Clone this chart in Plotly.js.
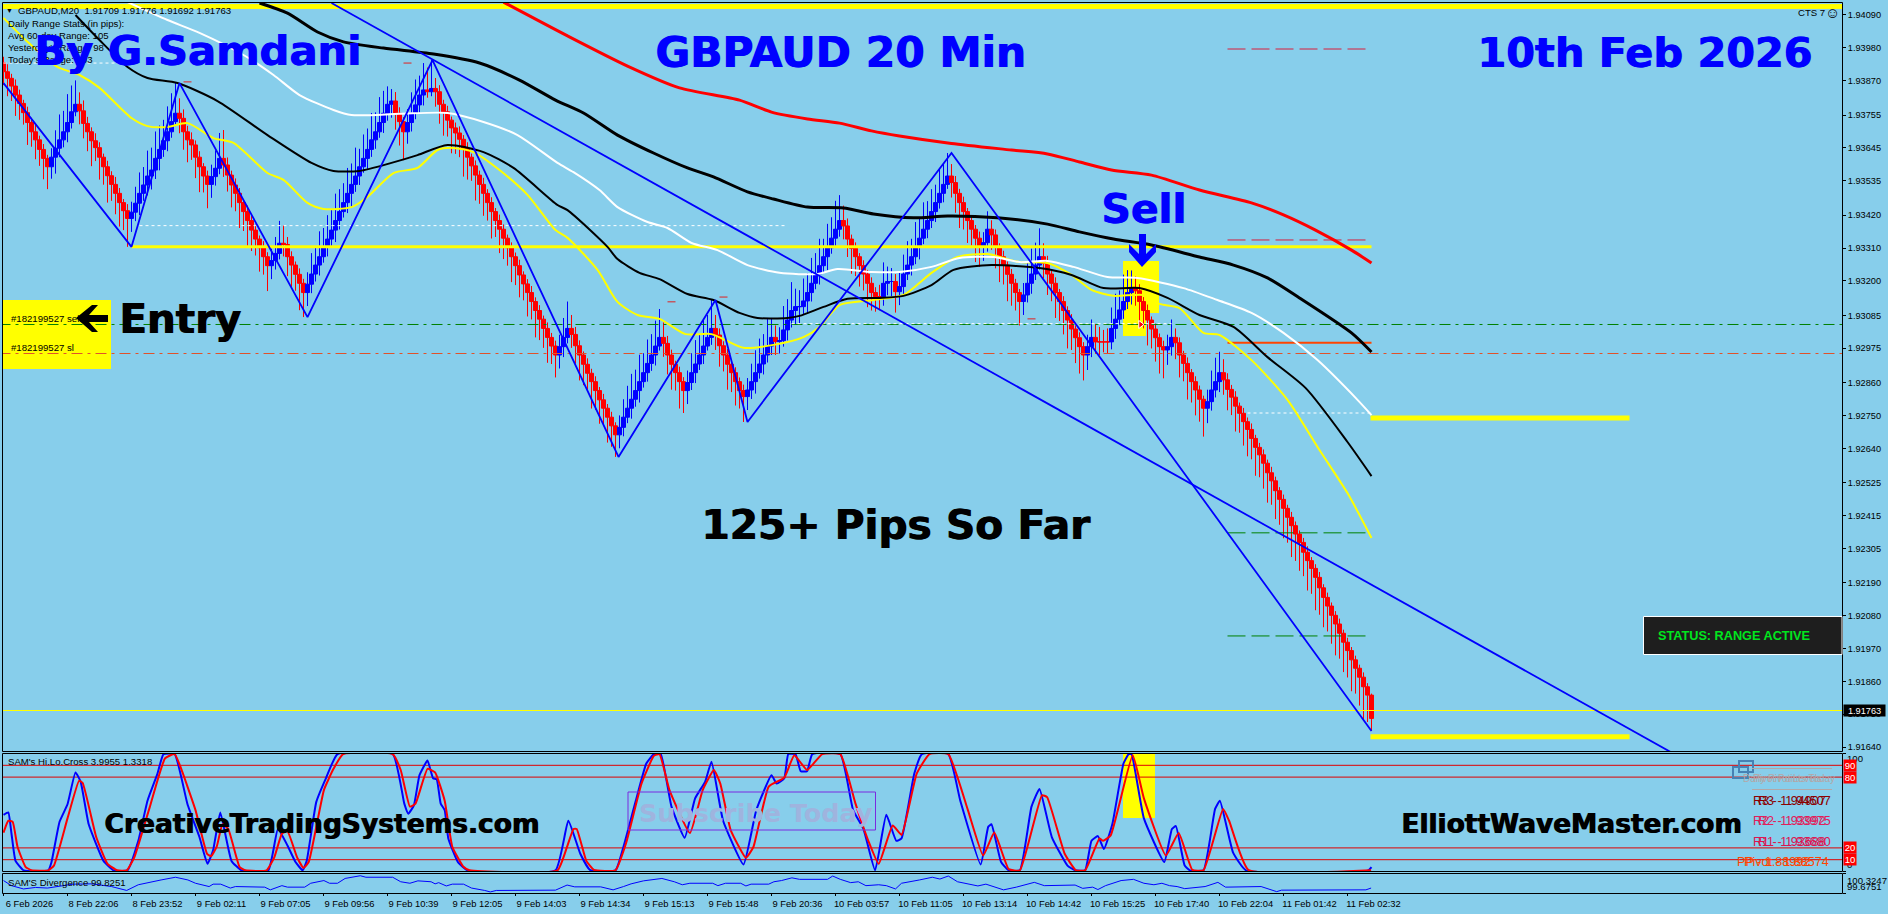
<!DOCTYPE html>
<html><head><meta charset="utf-8">
<script src="https://cdn.plot.ly/plotly-3.0.1.min.js"></script>
<style>html,body{margin:0;padding:0;background:#87ceeb;overflow:hidden}#c{width:1888px;height:914px}</style>
</head><body><div id="c"></div>
<script>
// ---- prices are stored as points above 1.90000 (1 = 0.00001)
const closes=[
3900,3878,3852,3822,3794,3763,3730,3699,3672,3640,
3610,3582,3614,3644,3672,3699,3730,3766,3791,3769,
3727,3699,3669,3646,3614,3582,3552,3523,3493,3462,
3435,3409,3430,3460,3493,3521,3551,3571,3610,3640,
3669,3699,3733,3761,3744,3699,3672,3655,3614,3582,
3551,3523,3549,3577,3610,3588,3554,3521,3493,3462,
3432,3402,3370,3340,3311,3281,3251,3268,3292,3326,
3322,3281,3253,3222,3192,3161,3189,3223,3253,3281,
3312,3340,3370,3402,3432,3462,3493,3523,3551,3582,
3610,3640,3672,3699,3730,3761,3791,3802,3761,3733,
3699,3730,3761,3789,3822,3839,3833,3844,3833,3791,
3766,3738,3712,3695,3674,3644,3614,3585,3554,3523,
3493,3462,3432,3402,3373,3343,3311,3281,3251,3220,
3190,3161,3131,3101,3072,3041,3011,2982,2952,2980,
3011,3041,3021,2983,2952,2921,2891,2863,2833,2802,
2774,2744,2715,2685,2710,2744,2774,2804,2833,2863,
2893,2924,2952,2982,3011,2991,2952,2921,2893,2863,
2833,2860,2893,2922,2952,2982,3011,3041,3019,2983,
2952,2921,2893,2863,2833,2813,2835,2863,2893,2922,
2952,2982,3011,2997,3000,3036,3069,3101,3114,3114,
3133,3161,3192,3223,3251,3281,3311,3343,3373,3402,
3384,3340,3309,3281,3251,3223,3192,3161,3147,3147,
3192,3198,3198,3164,3181,3223,3253,3281,3312,3343,
3373,3402,3432,3462,3493,3523,3551,3529,3493,3462,
3432,3402,3373,3343,3312,3328,3373,3354,3312,3281,
3253,3222,3192,3161,3131,3153,3192,3223,3253,3281,
3259,3223,3192,3161,3131,3101,3069,3039,3010,2980,
2952,2980,3011,2996,2996,2996,2996,3041,3072,3103,
3131,3161,3175,3167,3131,3101,3069,3039,3010,2980,
2969,2980,3011,2993,2952,2924,2893,2863,2835,2804,
2774,2796,2835,2863,2893,2869,2837,2811,2781,2757,
2729,2703,2673,2643,2618,2590,2558,2531,2498,2469,
2439,2409,2381,2353,2325,2292,2264,2238,2208,2173,
2141,2112,2081,2052,2021,1991,1963,1932,1904,1874,
1842,1814,1736];
const wickUp=[
20,25,15,22,18,12,20,16,24,14,
18,12,30,60,85,70,95,88,80,40,
35,22,15,25,18,12,20,15,25,18,
12,22,35,55,70,60,85,75,90,80,
70,85,95,101,50,30,20,25,15,20,
12,18,40,60,85,95,25,15,22,18,
12,20,15,18,12,22,15,40,55,75,
60,25,18,12,20,15,40,70,60,85,
65,80,70,90,75,65,85,70,95,60,
80,70,90,65,85,75,60,40,30,20,
15,45,70,85,65,90,75,95,35,22,
15,20,12,18,22,14,20,12,18,15,
22,14,18,12,20,16,12,18,14,20,
12,16,22,14,18,12,20,15,18,40,
65,90,45,25,18,12,20,15,18,12,
20,14,18,12,40,60,75,85,70,90,
65,80,70,85,95,50,25,18,12,20,
15,40,65,80,70,90,75,95,45,22,
15,20,12,18,14,20,40,60,75,85,
70,90,65,40,45,80,70,95,60,55,
75,65,85,70,90,60,80,70,95,85,
50,25,15,20,12,18,14,20,18,40,
70,50,45,25,50,65,80,60,85,70,
90,65,75,60,85,70,77,40,22,15,
20,12,18,14,22,35,60,30,18,14,
20,12,18,15,12,40,70,85,75,95,
45,25,15,20,12,18,14,20,12,18,
15,40,60,45,50,40,45,70,85,65,
90,75,60,40,22,15,20,12,18,14,
20,40,60,30,18,14,20,12,18,15,
12,40,65,80,70,45,22,15,20,12,
18,14,20,12,15,18,12,20,14,12,
16,12,18,14,12,15,20,12,14,18,
12,16,12,14,18,12,15,12,14,12,
16,12,5];
const wickDown=[
45,60,50,70,55,40,75,50,65,55,
70,75,40,55,30,25,35,20,15,45,
50,65,85,45,75,60,90,55,70,80,
65,95,45,30,40,25,35,45,30,40,
25,35,20,15,50,60,75,50,70,85,
55,80,45,30,20,40,55,75,60,85,
65,90,70,55,80,60,85,45,30,20,
40,65,80,55,90,82,45,30,25,35,
20,30,25,40,30,20,35,45,25,30,
20,35,25,30,20,35,25,45,55,80,
95,40,30,20,25,35,20,15,50,65,
80,55,85,70,60,95,75,50,85,65,
75,60,90,55,80,70,60,85,65,75,
55,80,60,90,70,65,85,60,75,45,
35,20,45,60,85,70,55,90,65,80,
60,85,70,74,45,30,20,35,25,40,
20,30,25,35,15,45,65,85,60,90,
75,45,25,35,20,30,15,25,50,70,
55,85,65,80,60,85,45,30,40,20,
35,25,30,45,40,20,35,25,45,60,
25,40,30,20,35,25,45,20,30,25,
45,60,85,65,70,55,80,60,50,45,
30,40,50,70,45,30,20,35,25,40,
20,30,25,35,20,30,15,50,65,85,
60,75,55,80,65,45,30,50,70,85,
65,90,75,60,80,45,25,35,20,15,
50,70,60,85,65,80,95,70,85,90,
85,50,35,40,45,35,40,25,35,20,
30,25,40,50,70,60,85,65,80,90,
95,50,30,55,75,60,90,70,85,75,
95,50,30,25,35,50,70,60,85,65,
80,90,70,95,75,85,100,80,95,85,
100,85,105,90,95,80,100,85,110,90,
100,85,95,105,85,100,90,105,85,95,
110,90,42];
const firstOpen=3930;

const maRedBars=[125,141,156,169,184,192,201,209,217,224,237,252,261,269,277,287,299,312,320,328,337,342];
const maRedVals=[4133,4020,3919,3846,3805,3765,3742,3728,3702,3685,3660,3638,3625,3598,3571,3554,3504,3461,3421,3370,3303,3260];
const maThickBars=[64,71,78.5,85,95,107.5,119,129,138,145,153.5,162.5,171,177.5,186,192.5,201,210,217.5,227.5,236,248.5,261,269,277.5,287,299,307.5,316,324,337,342];
const maThickVals=[4130,4096,4033,4000,3979,3959,3929,3872,3805,3762,3688,3628,3578,3548,3498,3474,3447,3444,3424,3411,3417,3411,3390,3364,3340,3320,3280,3253,3210,3143,3026,2962];
const maThinBars=[18,24,31,36,43.5,53.5,66,77,82.5,89,97,103.5,111,120,127.5,138.5,141,151,153.5,159,164,171,177.5,184,188.5,196,199,205,211,219,225,232,237.5,247,259,267,275,284,291,299,307.5,316,325.5,336,342];
const maThinVals=[4090,4006,3916,3879,3862,3802,3688,3595,3568,3568,3595,3621,3655,3631,3578,3454,3437,3314,3273,3227,3206,3156,3136,3093,3076,3076,3083,3113,3140,3143,3150,3186,3237,3253,3243,3220,3176,3176,3143,3086,3046,2945,2842,2661,2547];
const maWhiteBars=[31,41,49,60,67.5,74,82.5,87,99,111,120,128.5,138.5,142.5,149,153.5,161,166,172,178.5,186,194,203.5,208.5,217,224,232,239,247.5,254,261,267.5,276,283.5,295,303.5,312,320,328.5,338.5,342];
const maWhiteVals=[4133,4073,4030,3956,3889,3822,3772,3755,3759,3762,3732,3688,3595,3564,3504,3447,3397,3377,3327,3303,3253,3227,3223,3240,3230,3230,3247,3277,3280,3263,3267,3247,3213,3210,3176,3136,3093,3026,2935,2802,2751];
const maYellowBars=[0,6,13.5,19,24,32,36,41,46,52.5,57.5,66,70,76,80,87,91,97.5,103.5,108.5,112.5,117.5,124,131,138,141,148.5,153.5,158.5,164,170.5,177,185,192.5,200,204,209,217.5,225,232,238.5,246,254,261,267,272,277.5,285,289,294,300,304,312,321,329,336,342];
const maYellowVals=[4080,4000,3916,3889,3846,3745,3718,3715,3728,3678,3662,3561,3538,3461,3441,3447,3481,3561,3578,3638,3645,3631,3571,3488,3370,3344,3237,3130,3086,3073,3022,3022,2976,2986,3012,3046,3119,3136,3153,3227,3280,3290,3263,3260,3220,3170,3150,3153,3123,3109,3026,3019,2935,2802,2634,2490,2340];

const zigzagBars=[0,32,44,76,107.25,153.75,178,186,237,342];
const zigzagVals=[3862,3314,3862,3079,3939,2611,3136,2728,3628,1694];
const trendBars=[82,417];
const trendVals=[4130,1622];

const priceTicks=[1.94090,1.93980,1.93870,1.93755,1.93645,1.93535,1.93420,1.93310,1.93200,1.93085,1.92975,1.92860,1.92750,1.92640,1.92525,1.92415,1.92305,1.92190,1.92080,1.91970,1.91860,1.91750,1.91640];
const dateLabels=['6 Feb 2026','8 Feb 22:06','8 Feb 23:52','9 Feb 02:11','9 Feb 07:05','9 Feb 09:56','9 Feb 10:39','9 Feb 12:05','9 Feb 14:03','9 Feb 14:34','9 Feb 15:13','9 Feb 15:48','9 Feb 20:36','10 Feb 03:57','10 Feb 11:05','10 Feb 13:14','10 Feb 14:42','10 Feb 15:25','10 Feb 17:40','10 Feb 22:04','11 Feb 01:42','11 Feb 02:32'];
const dateBars=[0,16,32,48,64,80,96,112,128,144,160,176,192,208,224,240,256,272,288,304,320,336];

const stochBlueBars=[0,1.2,2,3,5,11.2,12,14,16,18,19.3,21.3,25,27.5,31,33.7,36,38.5,40,42.8,46,49,51,52.4,54.2,57,59.5,66.2,68.6,71,73,74.8,75.8,78.2,80.6,83.5,97.3,100.2,101.2,102.6,104,106,107.4,108.3,109.3,110.3,111.2,113.6,116,138,141.2,144.2,146.6,153,155,158,160.7,162.6,164.3,167,170.3,172.9,175.4,177,179.9,185,188.2,192,193.3,195.2,196.2,198,199.3,200.9,202.2,209.2,212.4,215,217.9,220.7,223.2,224.5,227.7,229.6,236.2,239.2,244.3,246.2,247,249.4,251.3,254.1,257,259,262.1,266,267.9,270.4,272,273.6,275.1,277.2,280,281.3,282,285.1,290.2,292.1,293.1,295.3,296.6,300,302.9,304.1,307.4,310.6,341.2,342];
const stochBlueVals=[48,50,32,9,1,1,8,42,57,84,76,40,9,1,1,26,60,83,99.5,99.5,57,29,6.5,18,50,9,1,1,36,22,8,1,9,59,79,99.5,99.5,57.5,49,56,81.6,94,79,78,57.5,52,28,8,1,1,43,15,1.4,1,21,59,91.5,99.5,99.5,55,28.6,62,76,93,43,6,52,81.6,74.5,79,99.5,99.5,85,85,99.5,99.5,52,36,1,48,26,28,83,99.5,99.5,60,6,38,40,8,1,1,55,70,29,5,1,1,26,30,19,40,91.5,99.5,99.5,45,8,36,38.5,5,1,1,53,60,16,1,1,3.7];
const stochRedBars=[0,1.2,2.3,3.5,5.5,7,11.2,12.6,16,18.9,19.8,23.2,26,28.4,30.8,32.7,36.6,40.4,42.8,44.2,48,50.9,51.9,53.3,54.75,56.2,59,60.5,65.75,67.7,69.6,71,73.4,75,76.3,80.1,82.5,84.9,97.3,99.3,101.6,103,106,107.9,110.3,112.2,115,116.5,138.5,140.9,142.5,143.3,145.7,147.6,153,155.6,159.5,162.6,164,166.5,171.6,174.8,177.6,179.2,181.8,185.6,187.5,191.3,195.2,197.7,200.9,204.7,209.2,213,216.2,218.8,222.3,224.5,228.3,231.5,236.2,241.1,244.9,247.7,251.3,254.1,259.6,260.9,265.3,268.1,270.4,274,274.9,276.8,282.3,285.1,290.6,293.8,297.2,300,304.9,306.4,311.2,341.9];
const stochRedVals=[33,43,42,21,4,1,1,5,45,77,75,29,6.5,1,1,12,55,96,99.5,89,52,15,13,21,40,36,4,1,1,12,32,34,12,3,8,69,87,99.5,99.5,86,55,57.5,87,84,60,21,4,1,1,21,36,36,9,1.4,1,23.5,74.5,98,99.5,69,32.6,69,86,74.5,35,11.6,21,72,79.6,98.6,86,99.5,99.5,57.5,26,6.5,39,31,83,99.5,99.5,52,13.6,33,2,1,64.6,63,15,1,1,28,26,30.6,98.6,62,13.6,32.6,1.4,1,53,43,1.4,1];
const stochLevels=[90,80,20,10];

const divBars=[0,2,5,8,11,13.6,17.4,22.2,27,30.8,33.7,39.4,43,46.1,48,51.4,52.4,54.3,56.7,58,65.3,66.7,68.1,69.6,71,75.3,76.8,80.1,81.5,83.5,85.4,89.2,90.6,97.3,99.3,101.6,103.6,106.9,107.9,108.8,110.7,112.2,115,117,120.3,121.7,123.2,138,140.9,142.8,149.3,152.4,155,156.9,160,164.6,167.7,169.7,171.6,177.3,178.6,180.5,184.3,185.6,186.9,191.3,192.6,194.5,197.1,199,206,207.3,209.2,211.8,213.7,215.6,218.8,220.7,223,224.5,229,232.2,234.1,236.2,238.5,243.6,245.6,250,253.2,257.7,260.2,267.9,269.8,272.3,273.6,275.5,279.4,282.5,285.1,287.6,289.6,291.5,293.4,295.3,300.4,303.6,305.5,314.4,318.3,319.5,340.6,341.9];
const divVals=[100.09,99.92,99.81,99.86,99.84,99.89,99.97,99.98,99.89,99.76,99.95,100.11,100.2,100.11,100.0,99.89,99.97,99.97,99.84,99.89,99.87,99.78,99.84,99.92,99.87,99.87,100.0,100.09,100.0,100.0,100.16,100.25,100.2,100.2,100.05,100.0,100.08,100.05,99.98,100.02,99.91,99.97,99.97,99.84,99.76,99.71,99.76,99.77,99.94,99.88,99.88,99.78,99.89,99.98,100.08,100.16,100.05,99.95,100.0,100.0,99.92,100.0,100.0,99.91,99.97,99.97,100.05,100.09,100.18,100.13,100.13,100.24,100.13,100.02,100.05,99.92,99.95,99.92,99.81,100.0,100.11,100.2,100.14,100.24,100.05,99.91,99.97,99.78,99.87,100.03,99.92,99.94,99.83,99.87,99.79,99.92,100.09,100.13,100.0,99.95,100.0,99.92,99.89,99.82,99.89,100.03,99.87,99.89,99.72,99.77,99.78,99.84];

// level lines: [value, first bar, last bar]
const whiteDashLevels=[[3929,0,32],[3385,34,196],[3057,197,292],[2758,311,342]];
const redDashLevels=[[3976,306,341],[3337,306,341]];
const greenDashLevels=[[2357,306,341],[2012,306,341]];
const redMarks=[[3866,45,47],[3929,100,102],[3130,166,168],[3146,179,181],[3073,256,258]];
const entryLevel=3054.2, stopLevel=2957.1, bidLevel=1762.5, pullbackLevel=3314, pivotSolidLevel=2993, boxLevelUp=2741, boxLevelDown=1675, topBandLevel=4118;

// ---- geometry of the three panels in page pixels
const W=1888,H=914,L=3,R=1842,T=2,B=893;
const P=v=>1.9+v*1e-5;
const px=x=>(x-L)/(R-L), py=y=>(B-y)/(B-T);
const lastX=459.625;

const opens=closes.map((c,i)=>i?closes[i-1]:firstOpen);
const bars=closes.map((c,i)=>i);
const highs=closes.map((c,i)=>P(Math.max(c,opens[i])+wickUp[i]));
const lows=closes.map((c,i)=>P(Math.min(c,opens[i])-wickDown[i]));

const traces=[];
function line(xs,ys,color,width,dash,yaxis,smooth){traces.push({type:'scatter',mode:'lines',x:xs,y:ys,yaxis:yaxis||'y',
  line:Object.assign({color:color,width:width,dash:dash||'solid'},smooth?{shape:'spline',smoothing:smooth}:{}),hoverinfo:'skip',showlegend:false});}
function level(v,a,b,color,width,dash){line([a,b],[P(v),P(v)],color,width,dash);}

level(topBandLevel,-1,lastX,'#ffff00',5);
level(pullbackLevel,32,342,'#ffff00',3);
level(boxLevelUp,341.75,406.5,'#ffff00',5);
level(boxLevelDown,341.75,406.5,'#ffff00',5);
level(bidLevel,-1,lastX,'#ffff00',1);
level(entryLevel,-1,lastX,'#008000',1,'11px,5px,3px,5px');
level(stopLevel,-1,lastX,'#e0522a',1,'11px,5px,3px,5px');
whiteDashLevels.forEach(a=>level(a[0],a[1],a[2],'#ffffff',1,'3px,3px'));
redDashLevels.forEach(a=>level(a[0],a[1],a[2],'#d81e3c',1,'18px,6px'));
greenDashLevels.forEach(a=>level(a[0],a[1],a[2],'#008000',1,'18px,6px'));
redMarks.forEach(a=>level(a[0],a[1],a[2],'#e02020',1));
level(pivotSolidLevel,306,342,'#ff4500',2);

line(maYellowBars,maYellowVals.map(P),'#ffff00',2,'solid','y',0.7);
traces.push({type:'candlestick',x:bars,open:opens.map(P),high:highs,low:lows,close:closes.map(P),
  whiskerwidth:0,hoverinfo:'skip',showlegend:false,
  increasing:{line:{color:'#0000ff',width:1},fillcolor:'#0000ff'},
  decreasing:{line:{color:'#ff0000',width:1},fillcolor:'#ff0000'}});
line(maThinBars,maThinVals.map(P),'#000000',2,'solid','y',0.7);
line(maThickBars,maThickVals.map(P),'#000000',3,'solid','y',0.7);
line(maWhiteBars,maWhiteVals.map(P),'#ffffff',2,'solid','y',0.7);
line(maRedBars,maRedVals.map(P),'#ff0000',3,'solid','y',0.7);
line(trendBars,trendVals.map(P),'#0000ff',1.8);
line(zigzagBars,zigzagVals.map(P),'#0000ff',1.8);
traces.push({type:'scatter',mode:'markers',x:[284.25],y:[P(entryLevel)],hoverinfo:'skip',showlegend:false,
  marker:{symbol:'triangle-right',size:7,color:'#ff0000',line:{color:'#ffffff',width:1}}});

stochLevels.forEach(v=>line([-1,lastX],[v,v],'#e00000',1,'solid','y2'));
line(stochBlueBars,stochBlueVals,'#0000ff',2,'solid','y2',0.4);
line(stochRedBars,stochRedVals,'#ff0000',2,'solid','y2',0.4);
line(divBars,divVals,'#0000ff',1,'solid','y3');

// ---- annotations
const ann=[];
const LIB='"Liberation Sans",Arial,sans-serif', DJV='"DejaVu Sans",Verdana,sans-serif';
function txt(s,x,base,size,color,bold){
  const f={family:bold?DJV:LIB,size:size,color:color};
  if(bold) f.shadow='1px 0 0 '+color;
  ann.push({xref:'paper',yref:'paper',x:px(x),y:py(base-0.3465*size),xanchor:'left',yanchor:'middle',showarrow:false,
    text:bold?'<b>'+s+'</b>':s,borderpad:0,font:f});
}
const small=9.6;
txt('▼',5,13,7,'#000000');
txt('GBPAUD,M20&nbsp;&nbsp;1.91709 1.91776 1.91692 1.91763',17,13.5,small,'#000000');
txt('Daily Range Stats (in pips):',7,27,small,'#000000');
txt('Avg 60-day Range: 105',7,39,small,'#000000');
txt("Yesterday's Range: 98",7,51,small,'#000000');
txt("Today's Range: 103",7,63,small,'#000000');
txt('CTS 7',1797,16,small,'#000000');
txt('☺',1824,18,15,'#000000');
txt('By G.Samdani',33,65,41.7,'#0000ff',true);
txt('GBPAUD 20 Min',654,67,42.4,'#0000ff',true);
txt('10th Feb 2026',1476,67,41.4,'#0000ff',true);
txt('125+ Pips So Far',700,539,40.7,'#000000',true);
txt('Sell',1100,223,40.8,'#0000ff',true);
txt('Entry',118,333,40.4,'#000000',true);
txt('#182199527 sell',10,322,small,'#000000');
txt('#182199527 sl',10,351,small,'#000000');
txt("SAM's Hi.Lo.Cross 3.9955 1.3318",7,765,small,'#000000');
txt("SAM'S Divergence 99.8251",7,886,small,'#000000');
ann.push({xref:'paper',yref:'paper',x:px(638),y:py(822-0.3465*25.5),xanchor:'left',yanchor:'middle',showarrow:false,
  text:'<b>Subscribe Today</b>',borderpad:0,font:{family:DJV,size:25.5,color:'#9fb4de'}});
txt('CreativeTradingSystems.com',103,833,26.5,'#000000',true);
txt('ElliottWaveMaster.com',1400,833,26.4,'#000000',true);
txt('Daily Pivot Levels',1742,782,10,'#b3a7a7');
txt('Pivot Points Today',1752,782,10,'#b3a7a7');
txt('R3 - 1.94507',1757,805,12.6,'#8b0000');
txt('R3 - 1.94907',1752,805,12.6,'#8b0000');
txt('R2 - 1.93975',1757,825,12.6,'#e0205a');
txt('R2 - 1.93992',1752,825,12.6,'#e0205a');
txt('R1 - 1.93680',1757,846,12.6,'#dc1450');
txt('R1 - 1.93688',1752,846,12.6,'#dc1450');
txt('PP - 1.88992',1736,866,12.6,'#ff4500');
txt('Pivot - 1.88574',1743,866,12.6,'#ff4500');
txt('<b>STATUS: RANGE ACTIVE</b>',1657,640,12.7,'#00e61e');
// right-hand scale labels of the lower panels
txt('100',1846,762,small,'#000000');
txt('0',1846,868,small,'#000000');
txt('100.3247',1846,884,small,'#000000');
txt('99.6751',1846,890,small,'#000000');
[[90,765],[80,777],[20,847],[10,859]].forEach(a=>{
  ann.push({xref:'paper',yref:'paper',x:px(1850),y:py(a[1]),xanchor:'center',yanchor:'middle',showarrow:false,text:String(a[0]),
    bgcolor:'#ff0000',width:12,height:11,borderpad:0,font:{family:LIB,size:9.5,color:'#ffffff'}});
});
ann.push({xref:'paper',yref:'paper',x:px(1864.5),y:py(710.5),xanchor:'center',yanchor:'middle',showarrow:false,text:'1.91763',
  bgcolor:'#000000',width:41,height:11,borderpad:0,font:{family:LIB,size:9.2,color:'#ffffff'}});

// ---- shapes
function rect(x0,y0,x1,y1,opt){return Object.assign({type:'rect',xref:'paper',yref:'paper',x0:px(x0),x1:px(x1),y0:py(y0),y1:py(y1),line:{width:0}},opt);}
function poly(pts,fill){return {type:'path',xref:'paper',yref:'paper',layer:'above',fillcolor:fill,line:{width:0},
  path:'M'+pts.map(p=>px(p[0])+','+py(p[1])).join(' L')+' Z'};}
const shapes=[
  rect(3,300,111,369,{fillcolor:'#ffff00',layer:'below'}),
  rect(1123,261,1159,313,{fillcolor:'#ffff00',layer:'below'}),
  rect(1123,313,1146,336,{fillcolor:'#ffff00',layer:'below'}),
  rect(1123,753,1155,818,{fillcolor:'#ffff00',layer:'below'}),
  rect(628,792,875.5,830,{line:{color:'#7b2be0',width:1},layer:'above'}),
  poly([[76,318],[92,305],[98,305],[89,315],[108,315],[108,322],[89,322],[98,332],[92,332]],'#000000'),
  poly([[1139,234],[1146,234],[1146,254],[1156,244],[1156,252],[1142,267],[1129,252],[1129,244],[1139,254]],'#0000ff'),
  rect(2.5,2.5,1842.5,751.5,{line:{color:'#000000',width:1},layer:'above'}),
  rect(2.5,753.5,1842.5,871.5,{line:{color:'#000000',width:1},layer:'above'}),
  rect(2.5,873.5,1842.5,893.5,{line:{color:'#000000',width:1},layer:'above'}),
  rect(1643.5,616.5,1842,654.5,{fillcolor:'#1e1e1e',line:{color:'#ffffff',width:1},layer:'above'}),
  rect(1733,767,1748,778,{line:{color:'#4682b4',width:2},layer:'above'}),
  rect(1739,761,1753,772,{line:{color:'#4682b4',width:2},layer:'above'}),
  {type:'line',xref:'paper',yref:'paper',x0:px(1752),x1:px(1832),y0:py(768.5),y1:py(768.5),line:{color:'#b3a7a7',width:1},layer:'above'},
  {type:'line',xref:'paper',yref:'paper',x0:px(1752),x1:px(1832),y0:py(789.5),y1:py(789.5),line:{color:'#b3a7a7',width:1},layer:'above'}
];

const axisBase={showgrid:false,zeroline:false,ticks:'outside',ticklen:3,tickcolor:'#000000',tickwidth:1,fixedrange:true};
const layout={
  width:W,height:H,autosize:false,showlegend:false,hovermode:false,
  paper_bgcolor:'#87ceeb',plot_bgcolor:'#87ceeb',
  boxgap:0,boxgroupgap:0,
  margin:{l:L,r:W-R,t:T,b:H-B,pad:0},
  font:{family:LIB,size:9.4,color:'#000000'},
  xaxis:Object.assign({},axisBase,{range:[-0.125,lastX],anchor:'y3',tickmode:'array',tickvals:dateBars,ticktext:dateLabels,ticklen:2,
    ticklabelshift:26,tickfont:{size:9.4,color:'#000000'},rangeslider:{visible:false},showline:false}),
  yaxis:Object.assign({},axisBase,{domain:[py(751),1],range:[P(1627),P(4133.3)],side:'right',anchor:'x',tickmode:'array',
    tickvals:priceTicks,ticktext:priceTicks.map(v=>v.toFixed(5)),tickfont:{size:9.2,color:'#000000'},showline:false}),
  yaxis2:Object.assign({},axisBase,{domain:[py(871.5),py(753.5)],range:[0,100],side:'right',anchor:'x',tickmode:'array',
    tickvals:[0,100],showticklabels:false,showline:false}),
  yaxis3:Object.assign({},axisBase,{domain:[0,py(873.5)],range:[99.6751,100.3247],side:'right',anchor:'x',tickmode:'array',
    tickvals:[99.6751,100.3247],showticklabels:false,showline:false}),
  annotations:ann,shapes:shapes
};
Plotly.newPlot('c',traces,layout,{staticPlot:true,displayModeBar:false,responsive:false});
</script></body></html>
